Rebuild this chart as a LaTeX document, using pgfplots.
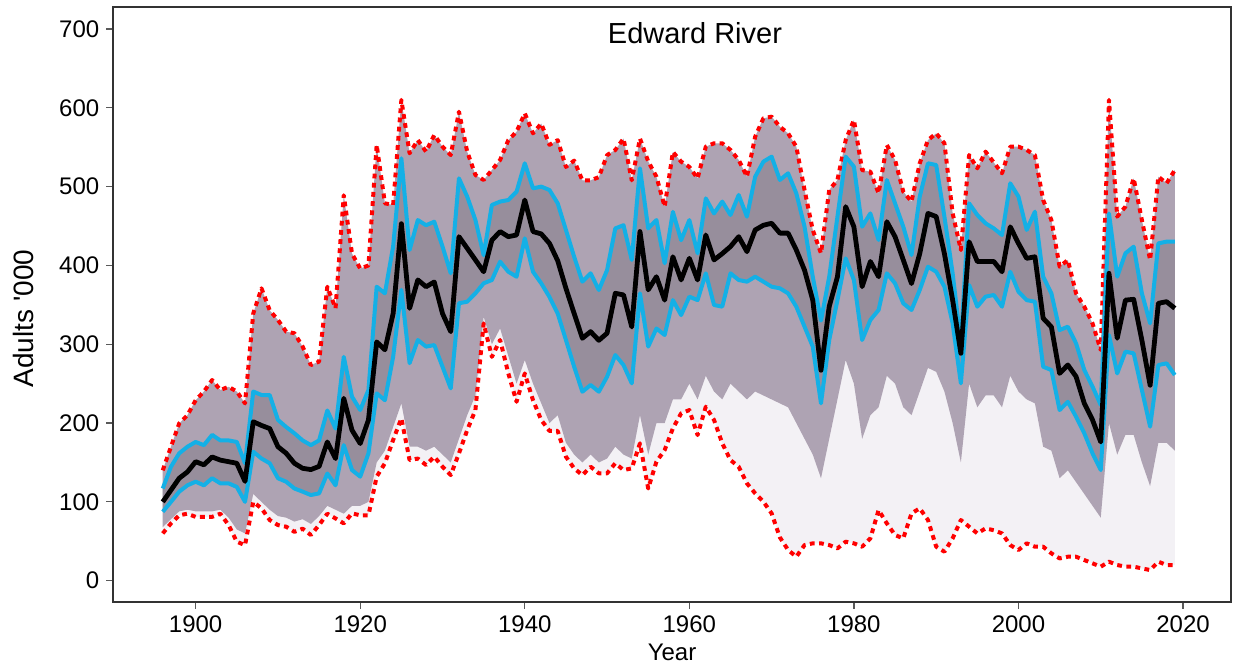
\documentclass[border=0pt]{standalone}
\usepackage{pgfplots}
\pgfplotsset{compat=1.18}
\usepgfplotslibrary{fillbetween}
\usepackage{pgfplotstable}
\usepackage{fontspec}
\setmainfont{Liberation Sans}

\definecolor{qcyan}{RGB}{20,176,230}
\definecolor{spagA}{RGB}{190,175,200}
\definecolor{spagB}{RGB}{128,112,135}
\definecolor{spagC}{RGB}{100,95,105}

% year, median, 5%/95% quantiles (cyan), min/max (red), lower edge of the dense run bundle
\pgfplotstableread{
year med cu cl ru rl dl
1896 100 117 87.5 140 60 68
1897 115 144.6 100 170 72.7 78
1898 130 161.6 113 199.6 83 88
1899 138 170 121 210 85 90
1900 151 176 125.6 229 81 88
1901 147 172 121 240 81 88
1902 157 185 130 254.6 81 88
1903 153 178 123.5 242 85 90
1904 151 178 123.5 246 70.6 80
1905 149 176 119 240 49.5 65
1906 126 149 100 225 45 60
1907 201.7 240 163.7 339 100 110
1908 197 235.6 155 371 91.8 100
1909 193 235.6 149 343 77 90
1910 170 204 130 330.8 70.6 82
1911 161.7 195 125.6 316 68.5 80
1912 149 187 117 314 62 75
1913 142.6 178 113 297 66 78
1914 141 172 108.7 273.6 58 72
1915 145 178 110.8 278 70.6 82
1916 176 216 136 373 85 95
1917 155 193 121 345.6 79 90
1918 231.4 284 172 489 72.7 85
1919 191 233.5 140.4 415 85.4 95
1920 174 216.5 132 396 83 95
1921 204 242 161.6 400 83 100
1922 303 373 237.7 553 132 150
1923 293 364.6 229 478.8 149 165
1924 339 424 284 476.7 178.5 195
1925 453 536 369 610 206 225
1926 345.6 419.6 276 542.3 153 170
1927 381.6 457.6 305.4 559 155 170
1928 373 451 297 544.4 146.8 165
1929 379 455.5 299 565.5 157.3 170
1930 339 424 271.5 550.7 144.6 160
1931 316 390 244 540 134 150
1932 436.5 510.5 352 595 161.6 180
1933 421.8 487.3 354 544.4 191 210
1934 407 457.6 364.6 514.8 216.5 235
1935 392 413 377.3 508.4 326.5 335
1936 432 476.7 381.5 521 284 300
1937 443 481 404.8 533.8 305.4 320
1938 436.5 483 392 559 263 285
1939 438.6 493.6 385.7 569.7 227 250
1940 483 529.6 434.4 593 263 280
1941 443 497.8 392 567.6 229 250
1942 440 500 377.3 580 203.9 225
1943 428 495.7 360 553 190 200
1944 406 478.8 339 559 190 210
1945 371 445 305.4 525 157.3 175
1946 339 411 271.5 533 142.5 160
1947 307.6 379.4 239.8 508 134 150
1948 316 390 248.3 508 144.6 160
1949 305 368.8 239.8 512 136.2 150
1950 314 394 258.8 540 136.2 155
1951 364.7 447 286.3 546.5 149 170
1952 362.6 451 273.6 561 140.4 160
1953 322 407 250.4 508 142.5 155
1954 443 523.2 364.6 561 174.3 210
1955 369 447 297 532 117 160
1956 385.7 457.6 320 512.6 151 200
1957 356 402.7 311.7 474.6 165.8 200
1958 411 468 356 544 193.3 230
1959 381.6 432 337 531.7 212.3 230
1960 409 457.6 360.4 525 216.5 250
1961 381.6 415.4 356 510.5 184.8 230
1962 438.6 485 390 550.7 220.8 260
1963 407 466 349.8 555 203.9 240
1964 415 481 347.7 555 174.3 230
1965 424 464 390 546.5 153 250
1966 436.5 489.4 381.5 533.8 144.6 240
1967 417.5 461.9 379.4 512.6 123.5 230
1968 445 512.6 385.7 563.4 110.8 240
1969 451 531.7 379.4 586.7 100.2 235
1970 453.5 538 373 588.8 85.4 230
1971 441 508.4 371 576 55 225
1972 441 516.9 364.6 567.6 39 220
1973 419.6 491.5 347.7 550.7 30.4 200
1974 394 449.2 322.3 495.7 45.2 180
1975 356 385.7 297 445 47.4 160
1976 267 330 225 415.4 47.4 130
1977 348 385.7 305.4 495.7 45.2 180
1978 385.7 461.9 356 508.4 41 230
1979 474.6 538 409 559 49.5 280
1980 449 525.3 381.5 584.5 47.4 250
1981 373 449.2 305.4 521 43.1 180
1982 405 466 330.8 519 53.7 210
1983 385.7 432.3 343.5 491.5 89.6 220
1984 455.5 508.4 390 552.8 72.7 260
1985 436.5 478.8 377.3 533.8 57.9 250
1986 407 449.2 351.9 493.6 53.7 220
1987 377 413.2 343.5 481 85.4 210
1988 415 487.3 368.8 529.6 91.8 240
1989 466 529.6 398.4 559 77 270
1990 462 527.4 392 567.6 43.1 265
1991 415 461.9 373 555 36.8 240
1992 356 390 326.5 466 53.7 200
1993 288.5 301.1 250.4 419.6 77 150
1994 430 478.8 375.2 540.1 68.5 250
1995 405 464 347.7 523.2 60 220
1996 405 453.4 360.4 544.4 66.4 235
1997 405 447 362.5 530.6 64 235
1998 392 438.6 347.7 516.9 60 220
1999 449 504.2 392 550.7 45.2 260
2000 428 487.3 366.7 550.7 38.9 240
2001 409 445 356 546.5 47.4 230
2002 411 468.2 354 540 43.1 225
2003 333 385.7 271.5 483 43.1 170
2004 322 364.6 267.3 457.6 34.7 165
2005 263 318 216.5 398.4 28.3 130
2006 273.7 322.3 227 406.9 30.4 140
2007 259 301.1 208 364.6 30.4 125
2008 225 267.3 187 347.7 26.2 110
2009 204 246.2 161.6 326.5 22 95
2010 176 222.9 140.4 292.7 17.8 80
2011 390 466 311.7 610 24.1 200
2012 307.6 385.7 263 461.9 19.9 160
2013 356 415.4 290.6 474.6 17.8 185
2014 357 423.8 288.5 510.5 17.8 185
2015 305 364.6 242 457.6 15.6 150
2016 248 326.5 195.4 406.9 13.5 120
2017 352 428 273.6 512.6 24.1 175
2018 354 430.2 275.8 504.2 19.9 175
2019 345.6 430.2 261 521 19.9 165
}\runs

\begin{document}
\begin{tikzpicture}
\begin{axis}[
  scale only axis,
  width=558.85pt, height=297.5pt,
  at={(0pt,0pt)}, anchor=south west,
  xmin=1889.99, xmax=2025.83,
  ymin=-26.65, ymax=728.3,
  xtick={1900,1920,...,2020},
  ytick={0,100,...,700},
  tick align=outside,
  xtick pos=left, ytick pos=left,
  major tick length=3.5pt,
  tick style={color=black!65, line width=0.6pt},
  axis line style={color=black!80, line width=1pt},
  ticklabel style={font=\fontsize{12}{14}\selectfont},
  /pgf/number format/assume math mode=true,
  /pgf/number format/set thousands separator={},
  xlabel={Year},
  xlabel style={font=\fontsize{12}{14}\selectfont, at={(axis description cs:0.4999,-0.0845)}, anchor=center},
  ylabel={Adults \textquotesingle 000},
  ylabel style={font=\fontsize{14}{16}\selectfont, at={(axis description cs:-0.0805,0.476)}, anchor=center},
  title={Edward River},
  title style={font=\fontsize{14.5}{17}\selectfont, at={(axis description cs:0.5204,0.9356)}, anchor=center},
  line join=round,
]
% envelopes used for the shaded bundle of simulation runs
\addplot[draw=none, forget plot, name path=ru] table[x=year,y=ru]{\runs};
\addplot[draw=none, forget plot, name path=rl] table[x=year,y=rl]{\runs};
\addplot[draw=none, forget plot, name path=dl] table[x=year,y=dl]{\runs};
\addplot[draw=none, forget plot, name path=cu] table[x=year,y=cu]{\runs};
\addplot[draw=none, forget plot, name path=cl] table[x=year,y=cl]{\runs};
\addplot[spagA, fill opacity=0.18, draw=none] fill between[of=ru and rl];
\addplot[spagB, fill opacity=0.6, draw=none] fill between[of=ru and dl];
\addplot[spagC, fill opacity=0.3, draw=none] fill between[of=cu and cl];

% min / max of all runs
\addplot[red, line width=2pt, dash pattern=on 2.4pt off 2.2pt] table[x=year,y=ru]{\runs};
\addplot[red, line width=2pt, dash pattern=on 2.4pt off 2.2pt] table[x=year,y=rl]{\runs};
% quantiles
\addplot[qcyan, line width=2pt] table[x=year,y=cu]{\runs};
\addplot[qcyan, line width=2pt] table[x=year,y=cl]{\runs};
% median
\addplot[black, line width=2.4pt] table[x=year,y=med]{\runs};
\end{axis}
\pgfresetboundingbox
\path[use as bounding box] (-56.65pt,-32.15pt) rectangle (559.85pt,300.85pt);
\end{tikzpicture}
\end{document}
